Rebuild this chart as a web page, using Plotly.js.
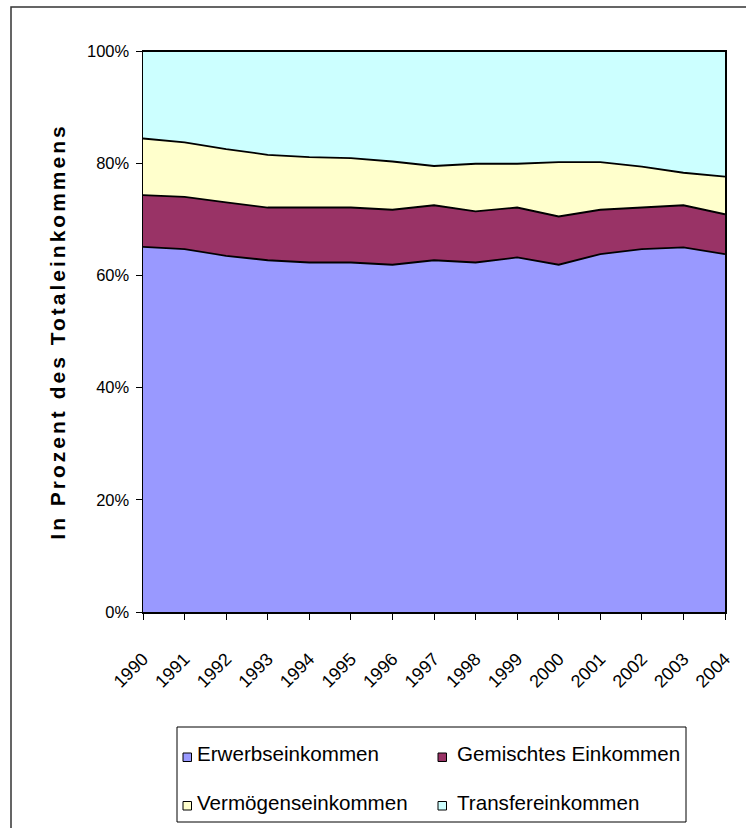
<!DOCTYPE html>
<html>
<head>
<meta charset="utf-8">
<script src="https://cdn.plot.ly/plotly-3.0.1.min.js"></script>
<style>
  html, body { margin: 0; padding: 0; background: #fff; }
  #chart { width: 746px; height: 828px; }
  .ytitle { letter-spacing: 3px; }
</style>
</head>
<body>
<div id="chart"></div>
<script>
// ---- data (shares in % of total income) ----
const years = [1990, 1991, 1992, 1993, 1994, 1995, 1996, 1997, 1998, 1999, 2000, 2001, 2002, 2003, 2004];
const yearLabels = ["1990", "1991", "1992", "1993", "1994", "1995", "1996", "1997", "1998", "1999", "2000", "2001", "2002", "2003", "2004"];
const erwerbseinkommen   = [65.1, 64.7, 63.5, 62.7, 62.3, 62.3, 61.9, 62.7, 62.3, 63.2, 61.9, 63.8, 64.7, 65.0, 63.8];
const gemischtesEink     = [9.2, 9.3, 9.5, 9.4, 9.8, 9.8, 9.8, 9.8, 9.1, 8.9, 8.6, 7.9, 7.4, 7.5, 7.1];
const vermoegenseink     = [10.1, 9.7, 9.5, 9.4, 9.0, 8.8, 8.6, 7.0, 8.5, 7.8, 9.7, 8.5, 7.3, 5.8, 6.7];
const transfereinkommen  = [15.6, 16.3, 17.5, 18.5, 18.9, 19.1, 19.7, 20.5, 20.1, 20.1, 19.8, 19.8, 20.6, 21.7, 22.4];
const seriesNames = ["Erwerbseinkommen", "Gemischtes Einkommen", "Vermögenseinkommen", "Transfereinkommen"];
const seriesColors = ["#9999FF", "#993366", "#FFFFCC", "#CCFFFF"];
const yTickVals = [0, 20, 40, 60, 80, 100];
const yTickText = ["0%", "20%", "40%", "60%", "80%", "100%"];
const yTitle = "In Prozent des Totaleinkommens";

const seriesValues = [erwerbseinkommen, gemischtesEink, vermoegenseink, transfereinkommen];

const traces = seriesValues.map((vals, i) => ({
  type: "scatter",
  mode: "lines",
  x: years,
  y: vals,
  name: seriesNames[i],
  stackgroup: "one",
  fillcolor: seriesColors[i],
  line: { color: "#000000", width: 1.8, shape: "linear" },
  showlegend: false,
  hoverinfo: "x+y+name"
}));

// plot area geometry (pixels) used to place legend/frame in paper coords
const L = 143, R = 725, T = 51, B = 612;
const px = v => (v - L) / (R - L);
const py = v => (B - v) / (B - T);

const tickFont = { family: "Liberation Sans, Arial, sans-serif", size: 16.5, color: "#000" };
const xTickFont = { family: "Liberation Sans, Arial, sans-serif", size: 18, color: "#000" };
const legendFont = { family: "Liberation Sans, Arial, sans-serif", size: 20.6, color: "#000" };

const shapes = [
  // outer chart frame
  { type: "rect", xref: "paper", yref: "paper", x0: px(11), x1: px(760), y0: py(840), y1: py(7),
    line: { color: "#333", width: 1.5 }, fillcolor: "rgba(0,0,0,0)", layer: "below" },
  // legend box
  { type: "rect", xref: "paper", yref: "paper", x0: px(177), x1: px(686), y0: py(822), y1: py(727),
    line: { color: "#000", width: 1 }, fillcolor: "#fff", layer: "above" }
];
const annotations = [];
const legendPos = [
  { sx: 183, sy: 753, tx: 195, ty: 753.5 },
  { sx: 438, sy: 753, tx: 455, ty: 753.5 },
  { sx: 183, sy: 801.5, tx: 195, ty: 802 },
  { sx: 438, sy: 801.5, tx: 455, ty: 802 }
];
seriesNames.forEach((n, i) => {
  const p = legendPos[i];
  shapes.push({ type: "rect", xref: "paper", yref: "paper",
    x0: px(p.sx), x1: px(p.sx + 8.5), y0: py(p.sy + 8.5), y1: py(p.sy),
    line: { color: "#000", width: 1 }, fillcolor: seriesColors[i], layer: "above" });
  annotations.push({ xref: "paper", yref: "paper", x: px(p.tx), y: py(p.ty),
    xanchor: "left", yanchor: "middle", showarrow: false, text: n, font: legendFont });
});

const layout = {
  width: 746, height: 828,
  margin: { l: L, r: 746 - R, t: T, b: 828 - B, pad: 0 },
  paper_bgcolor: "#ffffff",
  plot_bgcolor: "#ffffff",
  showlegend: false,
  xaxis: {
    range: [1990, 2004],
    tickmode: "array", tickvals: years, ticktext: yearLabels,
    tickangle: -45,
    ticks: "outside", ticklen: 6, tickwidth: 1, tickcolor: "#000",
    ticklabelstandoff: 22,
    showline: true, linecolor: "#000", linewidth: 1.5, mirror: true,
    showgrid: false, zeroline: false,
    tickfont: xTickFont,
    fixedrange: true
  },
  yaxis: {
    range: [0, 100],
    tickmode: "array", tickvals: yTickVals, ticktext: yTickText,
    ticks: "outside", ticklen: 6, tickwidth: 1, tickcolor: "#000",
    ticklabelstandoff: 3,
    showline: true, linecolor: "#000", linewidth: 1.5, mirror: true,
    showgrid: false, zeroline: false,
    tickfont: tickFont,
    title: { text: yTitle, standoff: 15,
      font: { family: "Liberation Sans, Arial, sans-serif", size: 21, color: "#000", weight: "bold" } },
    fixedrange: true
  },
  shapes: shapes,
  annotations: annotations
};

Plotly.newPlot("chart", traces, layout, { displayModeBar: false, staticPlot: true });
</script>
</body>
</html>
